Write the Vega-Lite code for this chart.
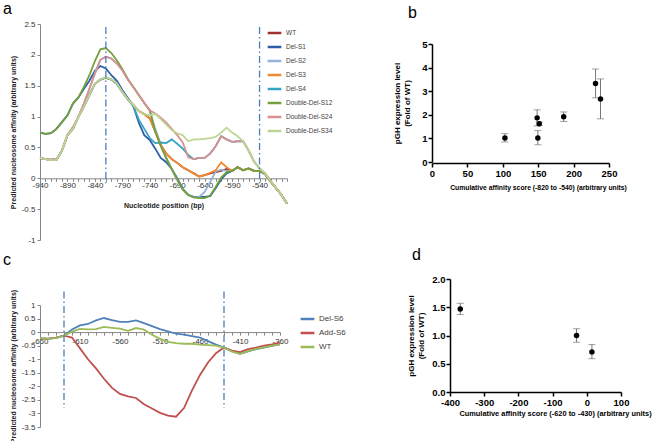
{
"$schema": "https://vega.github.io/schema/vega-lite/v6.json",
"padding": {"left": 3, "top": 0, "right": 0, "bottom": 0},
"background": "white",
"config": {
  "view": {"stroke": null},
  "font": "Liberation Sans",
  "axis": {"grid": false, "labelFont": "Liberation Sans", "titleFont": "Liberation Sans", "labelOverlap": false},
  "legend": {"labelFont": "Liberation Sans"},
  "title": {"font": "Liberation Sans", "fontWeight": "normal", "color": "black", "anchor": "start", "frame": "group", "baseline": "alphabetic", "fontSize": 16}
},
"resolve": {"scale": {"color": "independent"}, "legend": {"color": "independent"}},
"datasets": {
  "ra": [{"x": -820, "value": 2.45, "v2": -0.08}, {"x": -540, "value": 2.45, "v2": -0.08}],
  "rc": [{"x": -630, "value": 1.5, "v2": -2.8}, {"x": -430, "value": 1.5, "v2": -2.8}],
  "a": [
{"x":-940,"WT":0.33,"Del-S1":0.74,"Del-S2":0.33,"Del-S3":0.33,"Del-S4":0.33,"Double-Del-S12":0.74,"Double-Del-S24":0.33,"Double-Del-S34":0.33},
{"x":-930,"WT":0.31,"Del-S1":0.72,"Del-S2":0.31,"Del-S3":0.31,"Del-S4":0.31,"Double-Del-S12":0.72,"Double-Del-S24":0.31,"Double-Del-S34":0.31},
{"x":-920,"WT":0.30,"Del-S1":0.73,"Del-S2":0.30,"Del-S3":0.30,"Del-S4":0.30,"Double-Del-S12":0.73,"Double-Del-S24":0.30,"Double-Del-S34":0.29},
{"x":-910,"WT":0.30,"Del-S1":0.80,"Del-S2":0.30,"Del-S3":0.30,"Del-S4":0.30,"Double-Del-S12":0.80,"Double-Del-S24":0.30,"Double-Del-S34":0.30},
{"x":-900,"WT":0.45,"Del-S1":0.91,"Del-S2":0.45,"Del-S3":0.45,"Del-S4":0.45,"Double-Del-S12":0.91,"Double-Del-S24":0.45,"Double-Del-S34":0.45},
{"x":-890,"WT":0.70,"Del-S1":1.02,"Del-S2":0.70,"Del-S3":0.70,"Del-S4":0.70,"Double-Del-S12":1.02,"Double-Del-S24":0.70,"Double-Del-S34":0.70},
{"x":-880,"WT":0.80,"Del-S1":1.21,"Del-S2":0.83,"Del-S3":0.80,"Del-S4":0.80,"Double-Del-S12":1.21,"Double-Del-S24":0.83,"Double-Del-S34":0.80},
{"x":-870,"WT":1.00,"Del-S1":1.31,"Del-S2":1.00,"Del-S3":1.00,"Del-S4":1.00,"Double-Del-S12":1.31,"Double-Del-S24":1.00,"Double-Del-S34":1.00},
{"x":-860,"WT":1.16,"Del-S1":1.45,"Del-S2":1.21,"Del-S3":1.16,"Del-S4":1.16,"Double-Del-S12":1.48,"Double-Del-S24":1.21,"Double-Del-S34":1.16},
{"x":-850,"WT":1.35,"Del-S1":1.58,"Del-S2":1.45,"Del-S3":1.35,"Del-S4":1.35,"Double-Del-S12":1.67,"Double-Del-S24":1.45,"Double-Del-S34":1.35},
{"x":-840,"WT":1.53,"Del-S1":1.74,"Del-S2":1.70,"Del-S3":1.53,"Del-S4":1.53,"Double-Del-S12":1.90,"Double-Del-S24":1.70,"Double-Del-S34":1.53},
{"x":-830,"WT":1.60,"Del-S1":1.82,"Del-S2":1.92,"Del-S3":1.60,"Del-S4":1.60,"Double-Del-S12":2.09,"Double-Del-S24":1.92,"Double-Del-S34":1.60},
{"x":-820,"WT":1.63,"Del-S1":1.78,"Del-S2":1.97,"Del-S3":1.63,"Del-S4":1.63,"Double-Del-S12":2.11,"Double-Del-S24":1.97,"Double-Del-S34":1.64},
{"x":-810,"WT":1.60,"Del-S1":1.67,"Del-S2":1.94,"Del-S3":1.60,"Del-S4":1.60,"Double-Del-S12":2.03,"Double-Del-S24":1.94,"Double-Del-S34":1.60},
{"x":-800,"WT":1.53,"Del-S1":1.58,"Del-S2":1.86,"Del-S3":1.53,"Del-S4":1.53,"Double-Del-S12":1.91,"Double-Del-S24":1.86,"Double-Del-S34":1.54},
{"x":-790,"WT":1.40,"Del-S1":1.43,"Del-S2":1.75,"Del-S3":1.40,"Del-S4":1.40,"Double-Del-S12":1.77,"Double-Del-S24":1.75,"Double-Del-S34":1.40},
{"x":-780,"WT":1.28,"Del-S1":1.30,"Del-S2":1.60,"Del-S3":1.28,"Del-S4":1.28,"Double-Del-S12":1.61,"Double-Del-S24":1.60,"Double-Del-S34":1.28},
{"x":-770,"WT":1.19,"Del-S1":1.17,"Del-S2":1.48,"Del-S3":1.19,"Del-S4":1.17,"Double-Del-S12":1.48,"Double-Del-S24":1.48,"Double-Del-S34":1.19},
{"x":-760,"WT":1.09,"Del-S1":0.90,"Del-S2":1.35,"Del-S3":1.09,"Del-S4":0.95,"Double-Del-S12":1.35,"Double-Del-S24":1.35,"Double-Del-S34":1.09},
{"x":-750,"WT":1.04,"Del-S1":0.70,"Del-S2":1.22,"Del-S3":1.04,"Del-S4":0.80,"Double-Del-S12":1.22,"Double-Del-S24":1.22,"Double-Del-S34":1.04},
{"x":-740,"WT":0.97,"Del-S1":0.62,"Del-S2":1.10,"Del-S3":0.97,"Del-S4":0.65,"Double-Del-S12":1.10,"Double-Del-S24":1.10,"Double-Del-S34":1.02},
{"x":-730,"WT":0.76,"Del-S1":0.48,"Del-S2":0.80,"Del-S3":0.76,"Del-S4":0.57,"Double-Del-S12":0.76,"Double-Del-S24":1.05,"Double-Del-S34":1.04},
{"x":-720,"WT":0.54,"Del-S1":0.33,"Del-S2":0.55,"Del-S3":0.54,"Del-S4":0.58,"Double-Del-S12":0.52,"Double-Del-S24":0.98,"Double-Del-S34":0.96},
{"x":-710,"WT":0.40,"Del-S1":0.26,"Del-S2":0.34,"Del-S3":0.40,"Del-S4":0.57,"Double-Del-S12":0.32,"Double-Del-S24":0.90,"Double-Del-S34":0.87},
{"x":-700,"WT":0.31,"Del-S1":0.15,"Del-S2":0.15,"Del-S3":0.31,"Del-S4":0.63,"Double-Del-S12":0.15,"Double-Del-S24":0.80,"Double-Del-S34":0.78},
{"x":-690,"WT":0.25,"Del-S1":0.00,"Del-S2":-0.03,"Del-S3":0.25,"Del-S4":0.56,"Double-Del-S12":-0.02,"Double-Del-S24":0.70,"Double-Del-S34":0.73},
{"x":-680,"WT":0.18,"Del-S1":-0.17,"Del-S2":-0.18,"Del-S3":0.18,"Del-S4":0.48,"Double-Del-S12":-0.18,"Double-Del-S24":0.58,"Double-Del-S34":0.70},
{"x":-670,"WT":0.13,"Del-S1":-0.27,"Del-S2":-0.27,"Del-S3":0.13,"Del-S4":0.38,"Double-Del-S12":-0.27,"Double-Del-S24":0.34,"Double-Del-S34":0.60},
{"x":-660,"WT":0.08,"Del-S1":-0.30,"Del-S2":-0.31,"Del-S3":0.08,"Del-S4":0.31,"Double-Del-S12":-0.31,"Double-Del-S24":0.31,"Double-Del-S34":0.63},
{"x":-650,"WT":0.03,"Del-S1":-0.30,"Del-S2":-0.30,"Del-S3":0.03,"Del-S4":0.33,"Double-Del-S12":-0.32,"Double-Del-S24":0.33,"Double-Del-S34":0.63},
{"x":-640,"WT":0.05,"Del-S1":-0.30,"Del-S2":-0.22,"Del-S3":0.05,"Del-S4":0.33,"Double-Del-S12":-0.32,"Double-Del-S24":0.33,"Double-Del-S34":0.64},
{"x":-630,"WT":0.08,"Del-S1":-0.29,"Del-S2":-0.06,"Del-S3":0.09,"Del-S4":0.40,"Double-Del-S12":-0.28,"Double-Del-S24":0.40,"Double-Del-S34":0.65},
{"x":-620,"WT":0.10,"Del-S1":-0.16,"Del-S2":0.11,"Del-S3":0.13,"Del-S4":0.52,"Double-Del-S12":-0.14,"Double-Del-S24":0.52,"Double-Del-S34":0.67},
{"x":-610,"WT":0.12,"Del-S1":-0.02,"Del-S2":0.14,"Del-S3":0.26,"Del-S4":0.68,"Double-Del-S12":0.01,"Double-Del-S24":0.68,"Double-Del-S34":0.74},
{"x":-600,"WT":0.15,"Del-S1":0.08,"Del-S2":0.12,"Del-S3":0.18,"Del-S4":0.63,"Double-Del-S12":0.10,"Double-Del-S24":0.63,"Double-Del-S34":0.82},
{"x":-590,"WT":0.12,"Del-S1":0.12,"Del-S2":0.12,"Del-S3":0.12,"Del-S4":0.59,"Double-Del-S12":0.12,"Double-Del-S24":0.59,"Double-Del-S34":0.74},
{"x":-580,"WT":0.18,"Del-S1":0.18,"Del-S2":0.18,"Del-S3":0.18,"Del-S4":0.60,"Double-Del-S12":0.18,"Double-Del-S24":0.60,"Double-Del-S34":0.68},
{"x":-570,"WT":0.13,"Del-S1":0.13,"Del-S2":0.13,"Del-S3":0.13,"Del-S4":0.60,"Double-Del-S12":0.13,"Double-Del-S24":0.60,"Double-Del-S34":0.60},
{"x":-560,"WT":0.16,"Del-S1":0.16,"Del-S2":0.16,"Del-S3":0.16,"Del-S4":0.45,"Double-Del-S12":0.16,"Double-Del-S24":0.45,"Double-Del-S34":0.45},
{"x":-550,"WT":0.12,"Del-S1":0.12,"Del-S2":0.12,"Del-S3":0.12,"Del-S4":0.27,"Double-Del-S12":0.12,"Double-Del-S24":0.27,"Double-Del-S34":0.27},
{"x":-540,"WT":0.12,"Del-S1":0.12,"Del-S2":0.12,"Del-S3":0.12,"Del-S4":0.16,"Double-Del-S12":0.12,"Double-Del-S24":0.16,"Double-Del-S34":0.16},
{"x":-530,"WT":0.07,"Del-S1":0.07,"Del-S2":0.07,"Del-S3":0.07,"Del-S4":0.08,"Double-Del-S12":0.07,"Double-Del-S24":0.08,"Double-Del-S34":0.08},
{"x":-520,"WT":-0.05,"Del-S1":-0.05,"Del-S2":-0.05,"Del-S3":-0.05,"Del-S4":-0.04,"Double-Del-S12":-0.05,"Double-Del-S24":-0.04,"Double-Del-S34":-0.04},
{"x":-510,"WT":-0.16,"Del-S1":-0.16,"Del-S2":-0.16,"Del-S3":-0.16,"Del-S4":-0.16,"Double-Del-S12":-0.16,"Double-Del-S24":-0.16,"Double-Del-S34":-0.16},
{"x":-500,"WT":-0.27,"Del-S1":-0.27,"Del-S2":-0.27,"Del-S3":-0.27,"Del-S4":-0.27,"Double-Del-S12":-0.27,"Double-Del-S24":-0.27,"Double-Del-S34":-0.27},
{"x":-490,"WT":-0.41,"Del-S1":-0.41,"Del-S2":-0.41,"Del-S3":-0.41,"Del-S4":-0.41,"Double-Del-S12":-0.41,"Double-Del-S24":-0.41,"Double-Del-S34":-0.41}
  ],
  "c": [
{"x":-660,"Del-S6":-0.22,"Add-S6":-0.24,"WT":-0.22},
{"x":-650,"Del-S6":-0.25,"Add-S6":-0.24,"WT":-0.25},
{"x":-640,"Del-S6":-0.21,"Add-S6":-0.20,"WT":-0.21},
{"x":-630,"Del-S6":-0.13,"Add-S6":-0.13,"WT":-0.14},
{"x":-620,"Del-S6":0.10,"Add-S6":-0.20,"WT":0.02},
{"x":-610,"Del-S6":0.25,"Add-S6":-0.60,"WT":0.12},
{"x":-600,"Del-S6":0.30,"Add-S6":-1.00,"WT":0.10},
{"x":-590,"Del-S6":0.43,"Add-S6":-1.34,"WT":0.11},
{"x":-580,"Del-S6":0.52,"Add-S6":-1.72,"WT":0.19},
{"x":-570,"Del-S6":0.44,"Add-S6":-2.06,"WT":0.16},
{"x":-560,"Del-S6":0.38,"Add-S6":-2.28,"WT":0.13},
{"x":-550,"Del-S6":0.38,"Add-S6":-2.37,"WT":0.05},
{"x":-540,"Del-S6":0.43,"Add-S6":-2.43,"WT":0.15},
{"x":-530,"Del-S6":0.33,"Add-S6":-2.66,"WT":0.09},
{"x":-520,"Del-S6":0.22,"Add-S6":-2.82,"WT":-0.10},
{"x":-510,"Del-S6":0.11,"Add-S6":-2.98,"WT":-0.25},
{"x":-500,"Del-S6":0.03,"Add-S6":-3.08,"WT":-0.36},
{"x":-490,"Del-S6":-0.06,"Add-S6":-3.12,"WT":-0.41},
{"x":-480,"Del-S6":-0.09,"Add-S6":-2.80,"WT":-0.43},
{"x":-470,"Del-S6":-0.15,"Add-S6":-2.15,"WT":-0.43},
{"x":-460,"Del-S6":-0.20,"Add-S6":-1.58,"WT":-0.46},
{"x":-450,"Del-S6":-0.33,"Add-S6":-1.12,"WT":-0.48},
{"x":-440,"Del-S6":-0.46,"Add-S6":-0.78,"WT":-0.50},
{"x":-430,"Del-S6":-0.57,"Add-S6":-0.57,"WT":-0.57},
{"x":-420,"Del-S6":-0.70,"Add-S6":-0.68,"WT":-0.72},
{"x":-410,"Del-S6":-0.80,"Add-S6":-0.74,"WT":-0.80},
{"x":-400,"Del-S6":-0.71,"Add-S6":-0.63,"WT":-0.70},
{"x":-390,"Del-S6":-0.63,"Add-S6":-0.57,"WT":-0.62},
{"x":-380,"Del-S6":-0.57,"Add-S6":-0.50,"WT":-0.56},
{"x":-370,"Del-S6":-0.51,"Add-S6":-0.45,"WT":-0.50},
{"x":-360,"Del-S6":-0.45,"Add-S6":-0.39,"WT":-0.45}
  ],
  "b": [
{"x":103,"y":1.02,"lo":0.85,"hi":1.20},
{"x":148.5,"y":1.87,"lo":1.53,"hi":2.21},
{"x":149.5,"y":1.02,"lo":0.73,"hi":1.33},
{"x":151.5,"y":1.62,"lo":1.55,"hi":1.70},
{"x":186,"y":1.92,"lo":1.72,"hi":2.12},
{"x":231,"y":3.33,"lo":2.72,"hi":3.94},
{"x":238,"y":2.67,"lo":1.83,"hi":3.52}
  ],
  "d": [
{"x":-370,"y":1.47,"lo":1.37,"hi":1.57},
{"x":-30,"y":1.00,"lo":0.88,"hi":1.12},
{"x":15,"y":0.71,"lo":0.59,"hi":0.84}
  ]
},
"spacing": 3,
"vconcat": [
 {
  "spacing": 102,
  "hconcat": [
   {
    "width": 247, "height": 216,
    "title": {"text": "a", "dx": -37, "offset": 3.5},
    "encoding": {
      "x": {"field": "x", "type": "quantitative", "scale": {"domain": [-940,-490], "nice": false, "zero": false},
            "axis": {"values": [-940,-930,-920,-910,-900,-890,-880,-870,-860,-850,-840,-830,-820,-810,-800,-790,-780,-770,-760,-750,-740,-730,-720,-710,-700,-690,-680,-670,-660,-650,-640,-630,-620,-610,-600,-590,-580,-570,-560,-550,-540,-530,-520,-510,-500,-490],
                     "labelExpr": "(datum.value + 940) % 50 == 0 && datum.value <= -540 ? toString(datum.value) : ''",
                     "offset": -61.7, "domainColor": "#868686", "tickColor": "#868686", "tickSize": 3, "labelPadding": 0,
                     "labelFontSize": 8, "labelColor": "#333333", "labelOverlap": false, "labelFlush": false, "labelBound": false,
                     "title": "Nucleotide position (bp)", "titleFontSize": 7, "titleFontWeight": "bold", "titleColor": "#222222", "titlePadding": 12}},
      "y": {"field": "value", "type": "quantitative", "scale": {"domain": [-1,2.5], "nice": false, "zero": false},
            "axis": {"values": [-1,-0.5,0,0.5,1,1.5,2,2.5], "labelExpr": "toString(datum.value)", "labelOverlap": false,
                     "domainColor": "#868686", "tickColor": "#868686", "tickSize": 3, "labelPadding": 2,
                     "labelFontSize": 8, "labelColor": "#333333",
                     "title": "Predicted nucleosome affinity    (arbitrary units)", "titleFontSize": 7, "titleFontWeight": "bold", "titleColor": "#222222", "titlePadding": 5}}
    },
    "layer": [
     {
      "data": {"name": "a"},
      "transform": [{"fold": ["WT","Del-S1","Del-S2","Del-S3","Del-S4","Double-Del-S12","Double-Del-S24","Double-Del-S34"], "as": ["series","value"]}],
      "mark": {"type": "line", "strokeWidth": 1.8},
      "encoding": {
        "color": {"field": "series", "type": "nominal",
                  "scale": {"domain": ["WT","Del-S1","Del-S2","Del-S3","Del-S4","Double-Del-S12","Double-Del-S24","Double-Del-S34"],
                            "range": ["#a0312d","#2e5fa6","#95b3d7","#f28a30","#36a2c4","#72a03a","#d9908e","#bdd694"]},
                  "legend": {"orient": "none", "legendX": 226, "legendY": 0.5, "title": null, "symbolType": "stroke", "symbolStrokeWidth": 2.5,
                             "symbolSize": 186, "labelFontSize": 6.5, "labelColor": "#404040", "rowPadding": 0, "labelOffset": 3}}
      }
     },
     {
      "data": {"name": "ra"},
      "mark": {"type": "rule", "color": "#4a7ebb", "strokeDash": [7,3,1.5,3], "strokeWidth": 1.3},
      "encoding": {"y2": {"field": "v2"}}
     }
    ]
   },
   {
    "width": 177, "height": 139,
    "title": {"text": "b", "dx": -24, "offset": 3.5},
    "data": {"name": "b"},
    "encoding": {
      "x": {"field": "x", "type": "quantitative", "scale": {"domain": [0,250], "nice": false},
            "axis": {"values": [0,50,100,150,200,250], "domainColor": "black", "domainWidth": 1.5, "tickColor": "black", "tickWidth": 1.5, "tickSize": 4,
                     "labelFontSize": 9.5, "labelFontWeight": "bold", "labelColor": "black", "labelPadding": 1, "labelFlush": false,
                     "title": "Cumulative affinity score (-820 to -540) (arbitrary units)", "titleFontSize": 6.8, "titleFontWeight": "bold", "titleColor": "black", "titlePadding": 7, "titleX": 106}}
    },
    "layer": [
     {
      "mark": {"type": "errorbar", "color": "#777777", "ticks": {"size": 7, "color": "#777777"}, "thickness": 1},
      "encoding": {
        "y": {"field": "lo", "type": "quantitative", "scale": {"domain": [0,5], "nice": false, "range": [138, 20]},
              "axis": {"values": [0,1,2,3,4,5], "domainColor": "black", "domainWidth": 1.5, "tickColor": "black", "tickWidth": 1.5, "tickSize": 4,
                       "labelFontSize": 9.5, "labelFontWeight": "bold", "labelColor": "black", "labelPadding": 1,
                       "title": ["pGH expression level", "(Fold of WT)"], "titleFontSize": 8, "titleFontWeight": "bold", "titleColor": "black", "titlePadding": 10}},
        "y2": {"field": "hi"}
      }
     },
     {
      "mark": {"type": "point", "filled": true, "color": "black", "size": 30, "opacity": 1},
      "encoding": {
        "y": {"field": "y", "type": "quantitative",
              "axis": {"values": [0,1,2,3,4,5], "domainColor": "black", "domainWidth": 1.5, "tickColor": "black", "tickWidth": 1.5, "tickSize": 4,
                       "labelFontSize": 9.5, "labelFontWeight": "bold", "labelColor": "black", "labelPadding": 1,
                       "title": ["pGH expression level", "(Fold of WT)"], "titleFontSize": 8, "titleFontWeight": "bold", "titleColor": "black", "titlePadding": 10}}
      }
     }
    ]
   }
  ]
 },
 {
  "spacing": 118,
  "hconcat": [
   {
    "width": 240, "height": 148,
    "title": {"text": "c", "dx": -37, "offset": 11},
    "encoding": {
      "x": {"field": "x", "type": "quantitative", "scale": {"domain": [-660,-360], "nice": false, "zero": false},
            "axis": {"values": [-660,-650,-640,-630,-620,-610,-600,-590,-580,-570,-560,-550,-540,-530,-520,-510,-500,-490,-480,-470,-460,-450,-440,-430,-420,-410,-400,-390,-380,-370,-360],
                     "labelExpr": "(datum.value + 660) % 50 == 0 ? toString(datum.value) : ''",
                     "offset": -94.9, "domainColor": "#868686", "tickColor": "#868686", "tickSize": 3, "labelPadding": 2,
                     "labelFontSize": 8, "labelColor": "#333333", "labelOverlap": false, "labelFlush": false, "labelBound": false, "title": null}},
      "y": {"field": "value", "type": "quantitative", "scale": {"domain": [-3.5,1], "nice": false, "zero": false, "range": [148, 26]},
            "axis": {"values": [-3.5,-3,-2.5,-2,-1.5,-1,-0.5,0,0.5,1], "labelExpr": "toString(datum.value)", "labelOverlap": false,
                     "domainColor": "#868686", "tickColor": "#868686", "tickSize": 3, "labelPadding": 2,
                     "labelFontSize": 8, "labelColor": "#333333",
                     "title": "Predicted nucleosome affinity (arbitrary units)", "titleFontSize": 7, "titleFontWeight": "bold", "titleColor": "#222222", "titlePadding": 5}}
    },
    "layer": [
     {
      "data": {"name": "c"},
      "transform": [{"fold": ["Del-S6","Add-S6","WT"], "as": ["series","value"]}],
      "mark": {"type": "line", "strokeWidth": 1.8},
      "encoding": {
        "color": {"field": "series", "type": "nominal",
                  "scale": {"domain": ["Del-S6","Add-S6","WT"], "range": ["#4f81bd","#c0504d","#9bbb59"]},
                  "legend": {"orient": "none", "legendX": 259, "legendY": 31.5, "title": null, "symbolType": "stroke", "symbolStrokeWidth": 2.5,
                             "symbolSize": 190, "labelFontSize": 8, "labelColor": "#404040", "rowPadding": 0, "labelOffset": 3}}
      }
     },
     {
      "data": {"name": "rc"},
      "mark": {"type": "rule", "color": "#4a7ebb", "strokeDash": [7,3,1.5,3], "strokeWidth": 1.3},
      "encoding": {"y2": {"field": "v2"}}
     }
    ]
   },
   {
    "width": 171, "height": 113,
    "title": {"text": "d", "dx": -38, "offset": 11},
    "data": {"name": "d"},
    "encoding": {
      "x": {"field": "x", "type": "quantitative", "scale": {"domain": [-400,100], "nice": false, "zero": false},
            "axis": {"values": [-400,-300,-200,-100,0,100], "labelExpr": "toString(datum.value)", "domainColor": "black", "domainWidth": 1.5, "tickColor": "black", "tickWidth": 1.5, "tickSize": 4,
                     "labelFontSize": 9.5, "labelFontWeight": "bold", "labelColor": "black", "labelPadding": 1, "labelFlush": false,
                     "title": "Cumulative affinity score (-620 to -430) (arbitrary units)", "titleFontSize": 7.4, "titleFontWeight": "bold", "titleColor": "black", "titlePadding": 3, "titleX": 105}}
    },
    "layer": [
     {
      "mark": {"type": "errorbar", "color": "#777777", "ticks": {"size": 7, "color": "#777777"}, "thickness": 1},
      "encoding": {
        "y": {"field": "lo", "type": "quantitative", "scale": {"domain": [0,2], "nice": false},
              "axis": {"values": [0,0.5,1,1.5,2], "format": ".1f", "domainColor": "black", "domainWidth": 1.5, "tickColor": "black", "tickWidth": 1.5, "tickSize": 4,
                       "labelFontSize": 9.5, "labelFontWeight": "bold", "labelColor": "black", "labelPadding": 1,
                       "title": ["pGH expression level", "(Fold of WT)"], "titleFontSize": 8, "titleFontWeight": "bold", "titleColor": "black", "titlePadding": 6}},
        "y2": {"field": "hi"}
      }
     },
     {
      "mark": {"type": "point", "filled": true, "color": "black", "size": 30, "opacity": 1},
      "encoding": {
        "y": {"field": "y", "type": "quantitative",
              "axis": {"values": [0,0.5,1,1.5,2], "format": ".1f", "domainColor": "black", "domainWidth": 1.5, "tickColor": "black", "tickWidth": 1.5, "tickSize": 4,
                       "labelFontSize": 9.5, "labelFontWeight": "bold", "labelColor": "black", "labelPadding": 1,
                       "title": ["pGH expression level", "(Fold of WT)"], "titleFontSize": 8, "titleFontWeight": "bold", "titleColor": "black", "titlePadding": 6}}
      }
     }
    ]
   }
  ]
 }
]
}
